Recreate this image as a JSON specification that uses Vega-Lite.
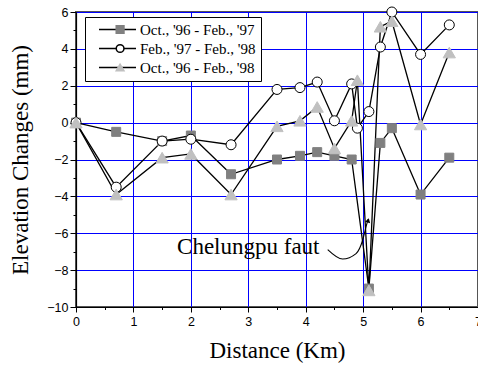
{
  "$schema": "https://vega.github.io/schema/vega-lite/v6.json",
  "autosize": "none",
  "width": 402,
  "height": 295,
  "padding": {"left": 76, "top": 12, "right": 0, "bottom": 60},
  "datasets": {
    "pts": [
      {"d": 0, "v": 0, "s": "Oct., '96 - Feb., '97"},
      {"d": 0.7, "v": -0.5, "s": "Oct., '96 - Feb., '97"},
      {"d": 1.5, "v": -1.0, "s": "Oct., '96 - Feb., '97"},
      {"d": 2.0, "v": -0.7, "s": "Oct., '96 - Feb., '97"},
      {"d": 2.7, "v": -2.8, "s": "Oct., '96 - Feb., '97"},
      {"d": 3.5, "v": -2.0, "s": "Oct., '96 - Feb., '97"},
      {"d": 3.9, "v": -1.8, "s": "Oct., '96 - Feb., '97"},
      {"d": 4.2, "v": -1.6, "s": "Oct., '96 - Feb., '97"},
      {"d": 4.5, "v": -1.8, "s": "Oct., '96 - Feb., '97"},
      {"d": 4.8, "v": -2.0, "s": "Oct., '96 - Feb., '97"},
      {"d": 5.1, "v": -9.0, "s": "Oct., '96 - Feb., '97"},
      {"d": 5.3, "v": -1.1, "s": "Oct., '96 - Feb., '97"},
      {"d": 5.5, "v": -0.3, "s": "Oct., '96 - Feb., '97"},
      {"d": 6.0, "v": -3.9, "s": "Oct., '96 - Feb., '97"},
      {"d": 6.5, "v": -1.9, "s": "Oct., '96 - Feb., '97"},
      {"d": 0, "v": 0, "s": "Feb., '97 - Feb., '98"},
      {"d": 0.7, "v": -3.5, "s": "Feb., '97 - Feb., '98"},
      {"d": 1.5, "v": -1.0, "s": "Feb., '97 - Feb., '98"},
      {"d": 2.0, "v": -0.9, "s": "Feb., '97 - Feb., '98"},
      {"d": 2.7, "v": -1.2, "s": "Feb., '97 - Feb., '98"},
      {"d": 3.5, "v": 1.8, "s": "Feb., '97 - Feb., '98"},
      {"d": 3.9, "v": 1.9, "s": "Feb., '97 - Feb., '98"},
      {"d": 4.2, "v": 2.2, "s": "Feb., '97 - Feb., '98"},
      {"d": 4.5, "v": 0.1, "s": "Feb., '97 - Feb., '98"},
      {"d": 4.8, "v": 2.1, "s": "Feb., '97 - Feb., '98"},
      {"d": 4.9, "v": -0.3, "s": "Feb., '97 - Feb., '98"},
      {"d": 5.1, "v": 0.6, "s": "Feb., '97 - Feb., '98"},
      {"d": 5.3, "v": 4.1, "s": "Feb., '97 - Feb., '98"},
      {"d": 5.5, "v": 6.0, "s": "Feb., '97 - Feb., '98"},
      {"d": 6.0, "v": 3.7, "s": "Feb., '97 - Feb., '98"},
      {"d": 6.5, "v": 5.3, "s": "Feb., '97 - Feb., '98"},
      {"d": 0, "v": 0, "s": "Oct., '96 - Feb., '98"},
      {"d": 0.7, "v": -3.9, "s": "Oct., '96 - Feb., '98"},
      {"d": 1.5, "v": -1.9, "s": "Oct., '96 - Feb., '98"},
      {"d": 2.0, "v": -1.7, "s": "Oct., '96 - Feb., '98"},
      {"d": 2.7, "v": -3.9, "s": "Oct., '96 - Feb., '98"},
      {"d": 3.5, "v": -0.2, "s": "Oct., '96 - Feb., '98"},
      {"d": 3.9, "v": 0.1, "s": "Oct., '96 - Feb., '98"},
      {"d": 4.2, "v": 0.85, "s": "Oct., '96 - Feb., '98"},
      {"d": 4.5, "v": -1.4, "s": "Oct., '96 - Feb., '98"},
      {"d": 4.8, "v": 0.1, "s": "Oct., '96 - Feb., '98"},
      {"d": 4.9, "v": 2.3, "s": "Oct., '96 - Feb., '98"},
      {"d": 5.1, "v": -9.1, "s": "Oct., '96 - Feb., '98"},
      {"d": 5.3, "v": 5.2, "s": "Oct., '96 - Feb., '98"},
      {"d": 5.5, "v": 5.5, "s": "Oct., '96 - Feb., '98"},
      {"d": 6.0, "v": -0.1, "s": "Oct., '96 - Feb., '98"},
      {"d": 6.5, "v": 3.8, "s": "Oct., '96 - Feb., '98"}
    ],
    "curve": [
      {"d": 4.383, "v": -6.885},
      {"d": 4.643, "v": -7.395},
      {"d": 4.877, "v": -7.102},
      {"d": 4.991, "v": -6.381},
      {"d": 5.05, "v": -5.659},
      {"d": 5.085, "v": -5.25}
    ],
    "note": [
      {"d": 3.0, "v": -7.1, "t": "Chelungpu faut"}
    ],
    "arrow": [
      {"d": 5.088, "v": -5.3}
    ]
  },
  "encoding": {
    "x": {
      "field": "d", "type": "quantitative",
      "scale": {"domain": [0, 7], "nice": false, "zero": false},
      "axis": {
        "title": "Distance (Km)",
        "values": [0, 0.5, 1, 1.5, 2, 2.5, 3, 3.5, 4, 4.5, 5, 5.5, 6, 6.5, 7],
        "labelExpr": "datum.value % 1 === 0 ? format(datum.value, 'd') : ''",
        "tickSize": {"condition": {"test": "datum.value % 1 !== 0", "value": 2.5}, "value": 5},
        "gridOpacity": {"condition": {"test": "datum.value % 1 !== 0", "value": 0}, "value": 1},
        "labelPadding": 3,
        "titlePadding": 12
      }
    },
    "y": {
      "field": "v", "type": "quantitative",
      "scale": {"domain": [-10, 6], "nice": false, "zero": false},
      "axis": {
        "title": "Elevation Changes (mm)",
        "values": [-10, -9, -8, -7, -6, -5, -4, -3, -2, -1, 0, 1, 2, 3, 4, 5, 6],
        "labelExpr": "datum.value % 2 === 0 ? format(datum.value, 'd') : ''",
        "tickSize": {"condition": {"test": "datum.value % 2 !== 0", "value": 3}, "value": 6},
        "gridOpacity": {"condition": {"test": "datum.value % 2 !== 0", "value": 0}, "value": 1},
        "labelPadding": 2,
        "titlePadding": 14
      }
    }
  },
  "layer": [
    {
      "data": {"name": "pts"},
      "mark": {"type": "line", "color": "#000000", "strokeWidth": 1.3},
      "encoding": {"detail": {"field": "s", "type": "nominal"}}
    },
    {
      "data": {"name": "pts"},
      "transform": [{"filter": "datum.s === \"Oct., '96 - Feb., '97\""}],
      "mark": {"type": "point", "shape": "square", "filled": true, "fill": "#808080", "stroke": "#808080", "strokeWidth": 1, "size": 81, "opacity": 1},
      "encoding": {}
    },
    {
      "data": {"name": "pts"},
      "transform": [{"filter": "datum.s === \"Feb., '97 - Feb., '98\""}],
      "mark": {"type": "point", "shape": "circle", "filled": true, "fill": "#ffffff", "stroke": "#000000", "strokeWidth": 1, "size": 100, "opacity": 1},
      "encoding": {}
    },
    {
      "data": {"name": "pts"},
      "transform": [{"filter": "datum.s === \"Oct., '96 - Feb., '98\""}],
      "mark": {"type": "point", "shape": "triangle-up", "filled": true, "fill": "#c0c0c0", "stroke": "#c0c0c0", "strokeWidth": 1, "size": 150, "opacity": 1},
      "encoding": {}
    },
    {
      "data": {"name": "pts"},
      "transform": [{"filter": "false"}],
      "mark": {"type": "point", "filled": false, "stroke": "#000000", "strokeWidth": 1.3, "size": 1369, "opacity": 1},
      "encoding": {
        "shape": {
          "field": "s", "type": "nominal",
          "scale": {
            "domain": ["Oct., '96 - Feb., '97", "Feb., '97 - Feb., '98", "Oct., '96 - Feb., '98"],
            "range": ["M-1,0H1", "M-1,0H1", "M-1,0H1"]
          },
          "legend": {
            "title": null,
            "orient": "none",
            "legendX": 9,
            "legendY": 5,
            "padding": 5,
            "strokeColor": "#000000",
            "fillColor": "#ffffff",
            "symbolSize": 1369,
            "symbolStrokeColor": "#000000",
            "symbolStrokeWidth": 1.3,
            "symbolOffset": 8,
            "clipHeight": 15,
            "rowPadding": 3,
            "labelFont": "Liberation Serif",
            "labelFontSize": 15,
            "labelColor": "#000000",
            "labelOffset": 3,
            "labelLimit": 300,
            "labelExpr": "datum.label + '\u00a0\u00a0\u00a0'"
          }
        }
      }
    },
    {
      "data": {"name": "pts"},
      "transform": [{"filter": "false"}],
      "mark": {"type": "point", "filled": true, "strokeWidth": 1, "size": 60, "opacity": 1},
      "encoding": {
        "shape": {
          "field": "s", "type": "nominal",
          "scale": {
            "domain": ["Oct., '96 - Feb., '97", "Feb., '97 - Feb., '98", "Oct., '96 - Feb., '98"],
            "range": ["square", "circle", "triangle-up"]
          },
          "legend": {
            "title": null,
            "orient": "none",
            "legendX": 23.6,
            "legendY": 5,
            "padding": 5,
            "symbolSize": 60,
            "symbolOffset": 8,
            "clipHeight": 15,
            "rowPadding": 3,
            "labelFont": "Liberation Serif",
            "labelFontSize": 15,
            "labelExpr": "''",
            "encode": {"symbols": {"update": {"size": {"signal": "datum.index === 2 ? 100 : datum.index === 1 ? 55 : 60"}}}}
          }
        },
        "fill": {
          "field": "s", "type": "nominal",
          "scale": {
            "domain": ["Oct., '96 - Feb., '97", "Feb., '97 - Feb., '98", "Oct., '96 - Feb., '98"],
            "range": ["#808080", "#ffffff", "#c0c0c0"]
          }
        },
        "stroke": {
          "field": "s", "type": "nominal",
          "scale": {
            "domain": ["Oct., '96 - Feb., '97", "Feb., '97 - Feb., '98", "Oct., '96 - Feb., '98"],
            "range": ["#808080", "#000000", "#c0c0c0"]
          }
        }
      }
    },
    {
      "data": {"name": "curve"},
      "mark": {"type": "line", "color": "#000000", "strokeWidth": 1.1, "interpolate": "monotone"},
      "encoding": {}
    },
    {
      "data": {"name": "arrow"},
      "mark": {"type": "point", "shape": "triangle-up", "filled": true, "color": "#000000", "size": 28, "angle": 15, "opacity": 1},
      "encoding": {}
    },
    {
      "data": {"name": "note"},
      "mark": {"type": "text", "font": "Liberation Serif", "fontSize": 23, "align": "center", "baseline": "alphabetic", "color": "#000000"},
      "encoding": {"text": {"field": "t", "type": "nominal"}}
    }
  ],
  "resolve": {
    "scale": {"shape": "independent", "fill": "independent", "stroke": "independent"},
    "legend": {"shape": "independent", "fill": "independent", "stroke": "independent"}
  },
  "config": {
    "font": "Liberation Sans",
    "view": {"stroke": "#555555", "strokeWidth": 2},
    "axis": {
      "domainColor": "#000000",
      "domainWidth": 1.2,
      "tickColor": "#000000",
      "tickWidth": 1,
      "gridColor": "#0000ff",
      "gridWidth": 1,
      "grid": true,
      "labelFont": "Liberation Sans",
      "labelFontSize": 12.5,
      "labelColor": "#000000",
      "labelFlush": false,
      "labelOverlap": false,
      "titleFont": "Liberation Serif",
      "titleFontSize": 23,
      "titleFontWeight": "normal",
      "titleColor": "#000000"
    }
  }
}
